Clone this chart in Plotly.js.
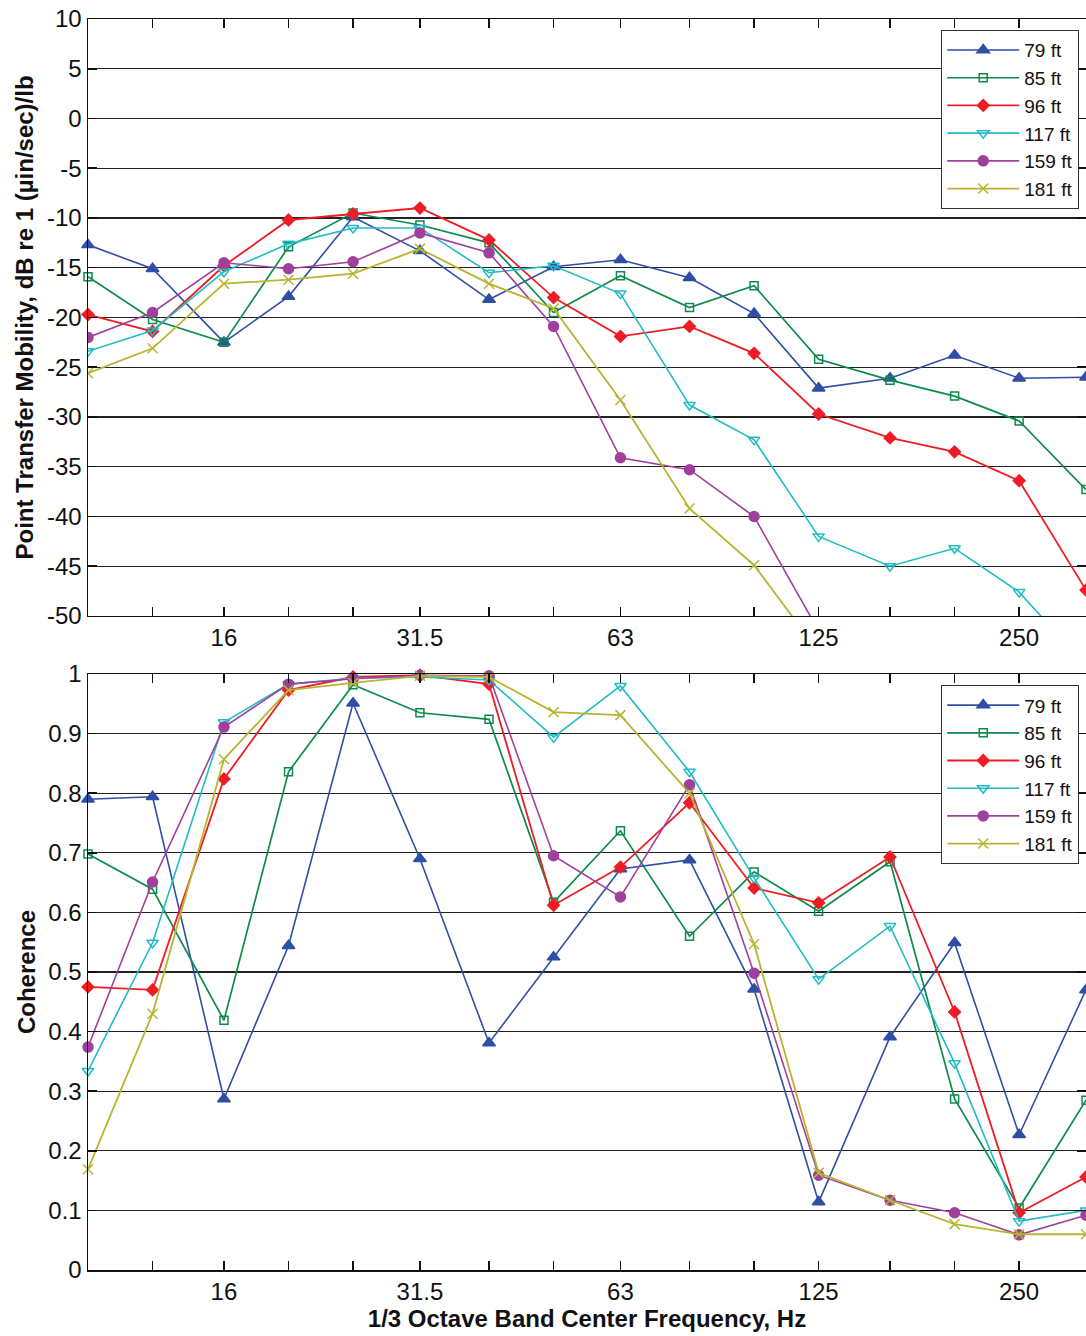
<!DOCTYPE html>
<html>
<head>
<meta charset="utf-8">
<script src="https://cdn.plot.ly/plotly-3.0.1.min.js"></script>
<style>html,body{margin:0;padding:0;background:#fff;}#chart{width:1086px;height:1336px;}</style>
</head>
<body>
<div id="chart"></div>
<script>
// 1/3 octave band centre frequencies (Hz)
const freqs = [10, 12.5, 16, 20, 25, 31.5, 40, 50, 63, 80, 100, 125, 160, 200, 250, 315];
const tickLabels = ['', '', '16', '', '', '31.5', '', '', '63', '', '', '125', '', '', '250', ''];
const seriesNames = ['79 ft', '85 ft', '96 ft', '117 ft', '159 ft', '181 ft'];
const mobTicks = [10, 5, 0, -5, -10, -15, -20, -25, -30, -35, -40, -45, -50];
const mobTickText = ['10', '5', '0', '-5', '-10', '-15', '-20', '-25', '-30', '-35', '-40', '-45', '-50'];
const cohTicks = [0, 0.1, 0.2, 0.3, 0.4, 0.5, 0.6, 0.7, 0.8, 0.9, 1];
const cohTickText = ['0', '0.1', '0.2', '0.3', '0.4', '0.5', '0.6', '0.7', '0.8', '0.9', '1'];

// Point transfer mobility, dB re 1 (µin/sec)/lb
const mob79  = [-12.7, -15.1, -22.5, -17.9, -9.9, -13.3, -18.2, -14.9, -14.2, -16.0, -19.6, -27.1, -26.1, -23.8, -26.1, -26.0];
const mob85  = [-15.9, -20.2, -22.5, -12.9, -9.5, -10.7, -12.5, -19.5, -15.8, -19.0, -16.8, -24.2, -26.3, -27.9, -30.4, -37.3];
const mob96  = [-19.7, -21.4, -14.8, -10.2, -9.6, -9.0, -12.2, -18.0, -21.9, -20.9, -23.6, -29.7, -32.1, -33.5, -36.4, -47.4];
const mob117 = [-23.4, -21.3, -15.4, -12.6, -11.0, -11.0, -15.5, -14.8, -17.6, -28.8, -32.3, -42.0, -45.0, -43.2, -47.6, -55.0];
const mob159 = [-22.0, -19.5, -14.5, -15.1, -14.4, -11.5, -13.5, -20.9, -34.1, -35.3, -40.0, -51.5, null, null, null, null];
const mob181 = [-25.6, -23.1, -16.6, -16.2, -15.6, -13.1, -16.6, -19.1, -28.3, -39.2, -44.9, -53.6, null, null, null, null];

// Coherence
const coh79  = [0.790, 0.794, 0.287, 0.544, 0.951, 0.690, 0.381, 0.525, 0.673, 0.688, 0.471, 0.114, 0.391, 0.549, 0.227, 0.470];
const coh85  = [0.698, 0.639, 0.419, 0.836, 0.982, 0.935, 0.924, 0.617, 0.737, 0.560, 0.668, 0.602, 0.685, 0.287, 0.104, 0.285];
const coh96  = [0.475, 0.470, 0.824, 0.973, 0.995, 0.998, 0.983, 0.612, 0.676, 0.784, 0.641, 0.616, 0.693, 0.433, 0.096, 0.156];
const coh117 = [0.334, 0.549, 0.919, 0.983, 0.993, 0.995, 0.990, 0.894, 0.980, 0.836, 0.658, 0.488, 0.577, 0.347, 0.082, 0.100];
const coh159 = [0.374, 0.651, 0.911, 0.983, 0.992, 0.998, 0.997, 0.695, 0.626, 0.814, 0.498, 0.159, 0.117, 0.096, 0.059, 0.092];
const coh181 = [0.169, 0.430, 0.857, 0.973, 0.985, 0.997, 0.995, 0.936, 0.931, 0.800, 0.547, 0.163, 0.117, 0.077, 0.060, 0.060];

const mobility = [mob79, mob85, mob96, mob117, mob159, mob181];
const coherence = [coh79, coh85, coh96, coh117, coh159, coh181];

const styles = [
  {color: '#2f4fa6', symbol: 'triangle-up', size: 11, lw: 1.6},
  {color: '#0d8a4c', symbol: 'square-open', size: 8, lw: 1.7},
  {color: '#ee1c24', symbol: 'diamond', size: 9, lw: 1.8},
  {color: '#22bcc4', symbol: 'triangle-down-open', size: 10, lw: 1.6},
  {color: '#a0409e', symbol: 'circle', size: 10, lw: 1.6},
  {color: '#b8b430', symbol: 'x-thin-open', size: 10, lw: 1.8}
];

const traces = [];
seriesNames.forEach((name, i) => {
  const s = styles[i];
  const inRange = mobility[i].every(v => v === null || v >= -50);
  traces.push({
    x: freqs, y: mobility[i], name: name, type: 'scatter', mode: 'lines+markers',
    xaxis: 'x', yaxis: 'y', legend: 'legend', cliponaxis: !inRange,
    line: {color: s.color, width: s.lw},
    marker: {symbol: s.symbol, size: s.size, color: s.color, line: {color: s.color, width: 1.5}}
  });
});
seriesNames.forEach((name, i) => {
  const s = styles[i];
  traces.push({
    x: freqs, y: coherence[i], name: name, type: 'scatter', mode: 'lines+markers',
    xaxis: 'x2', yaxis: 'y2', legend: 'legend2', cliponaxis: false,
    line: {color: s.color, width: s.lw},
    marker: {symbol: s.symbol, size: s.size, color: s.color, line: {color: s.color, width: 1.5}}
  });
});

const fam = 'Liberation Sans, Arial, sans-serif';
const font = {family: fam, size: 24, color: '#111'};
const titleFont = {family: fam, size: 24, color: '#111'};
const xCommon = {
  type: 'log', range: [1, Math.log10(315)],
  tickmode: 'array', tickvals: freqs, ticktext: tickLabels,
  ticks: 'inside', ticklen: 9, tickwidth: 1.5, tickcolor: '#111',
  showline: true, linecolor: '#111', linewidth: 1.5, mirror: 'ticks',
  showgrid: false, zeroline: false, tickfont: font
};
const yCommon = {
  ticks: 'inside', ticklen: 9, tickwidth: 1.5, tickcolor: '#111',
  showline: true, linecolor: '#111', linewidth: 1.5, mirror: 'ticks',
  showgrid: true, gridcolor: '#222', gridwidth: 1.2, zeroline: false, tickfont: font,
  tickmode: 'array'
};
const legendCommon = {
  x: 0.993, xanchor: 'right', yanchor: 'top',
  bgcolor: '#fff', bordercolor: '#333', borderwidth: 1.2,
  font: {family: fam, size: 19, color: '#111'},
  itemwidth: 72, tracegroupgap: 0
};

const layout = {
  width: 1086, height: 1336,
  margin: {l: 88, r: 0, t: 19, b: 66},
  paper_bgcolor: '#fff', plot_bgcolor: '#fff',
  font: font,
  showlegend: true,
  xaxis: Object.assign({}, xCommon, {anchor: 'y', domain: [0, 1]}),
  yaxis: Object.assign({}, yCommon, {
    anchor: 'x', domain: [0.5228, 1], range: [-50, 10],
    tickvals: mobTicks, ticktext: mobTickText,
    title: {text: '<b>Point Transfer Mobility, dB re 1 (µin/sec)/lb</b>', font: titleFont, standoff: 6}
  }),
  xaxis2: Object.assign({}, xCommon, {
    anchor: 'y2', domain: [0, 1],
    title: {text: '<b>1/3 Octave Band Center Frequency, Hz</b>', font: titleFont, standoff: 4}
  }),
  yaxis2: Object.assign({}, yCommon, {
    anchor: 'x2', domain: [0, 0.4764], range: [0, 1],
    tickvals: cohTicks, ticktext: cohTickText,
    title: {text: '<b>Coherence</b>', font: titleFont, standoff: 6}
  }),
  legend: Object.assign({}, legendCommon, {y: 0.9912}),
  legend2: Object.assign({}, legendCommon, {y: 0.4676})
};

Plotly.newPlot('chart', traces, layout, {displayModeBar: false, staticPlot: true});
</script>
</body>
</html>
